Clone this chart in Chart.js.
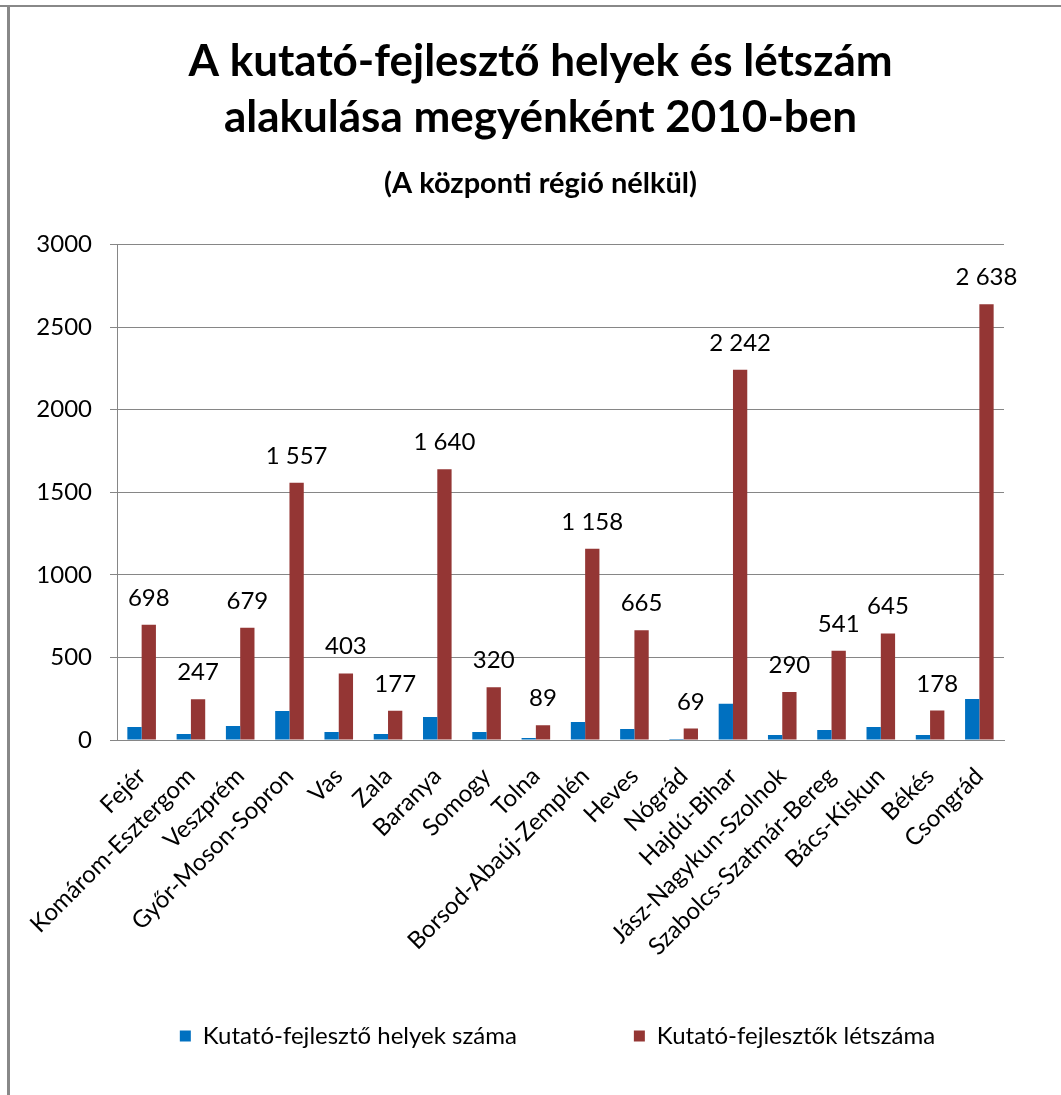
<!DOCTYPE html>
<html lang="hu">
<head>
<meta charset="utf-8">
<title>Kutató-fejlesztő helyek és létszám 2010</title>
<script src="https://cdn.jsdelivr.net/npm/chart.js@4.4.1/dist/chart.umd.min.js"></script>
<style>
  html, body { margin: 0; padding: 0; background: #fff; }
  #wrap { width: 1061px; height: 1095px; }
</style>
</head>
<body>
<div id="wrap"><canvas id="chart" width="1061" height="1095"></canvas></div>
<script>
/* data */
const categories = ['Fejér','Komárom-Esztergom','Veszprém','Győr-Moson-Sopron','Vas','Zala','Baranya','Somogy','Tolna',
  'Borsod-Abaúj-Zemplén','Heves','Nógrád','Hajdú-Bihar','Jász-Nagykun-Szolnok','Szabolcs-Szatmár-Bereg','Bács-Kiskun','Békés','Csongrád'];
const helyekSzama = [79, 36, 85, 176, 49, 36, 140, 49, 12, 109, 67, 6, 219, 30, 61, 79, 30, 249];
const letszam = [698, 247, 679, 1557, 403, 177, 1640, 320, 89, 1158, 665, 69, 2242, 290, 541, 645, 178, 2638];
const yTickValues = [0, 500, 1000, 1500, 2000, 2500, 3000];
const seriesNames = ['Kutató-fejlesztő helyek száma', 'Kutató-fejlesztők létszáma'];

const FONT = 'Lato, "Open Sans", sans-serif';
const GRID = '#868686';

// 1 557 style thousands separator, like the original labels
function huNum(v){ return String(v).replace(/\B(?=(\d{3})+(?!\d))/g, ' '); }

// white background + the grey frame on the left and top edge
const frame = {
  id: 'frame',
  beforeDraw(chart){
    const c = chart.ctx;
    c.save();
    c.fillStyle = '#fff'; c.fillRect(0, 0, chart.width, chart.height);
    c.fillStyle = '#888';
    c.fillRect(0, 5, chart.width, 2);
    c.fillRect(7, 5, 3, chart.height);
    c.restore();
  }
};

// value labels above the red bars only
const barLabels = {
  id: 'barLabels',
  afterDatasetsDraw(chart){
    const c = chart.ctx;
    const meta = chart.getDatasetMeta(1);
    c.save();
    c.font = '24px ' + FONT; c.fillStyle = '#000';
    c.textAlign = 'center'; c.textBaseline = 'alphabetic';
    meta.data.forEach((bar, i) => c.fillText(huNum(letszam[i]), bar.x, bar.y - 19));
    c.restore();
  }
};

// legend sits a bit right of centre and overlaps the tall x-label band in the original
const legendNudge = {
  id: 'legendNudge',
  afterLayout(chart){
    const lg = chart.legend;
    if (!lg) return;
    lg.left += 17; lg.right += 17;
    lg.top -= 63; lg.bottom -= 63;
  }
};

new Chart(document.getElementById('chart'), {
  type: 'bar',
  data: {
    labels: categories,
    datasets: [
      { label: seriesNames[0], data: helyekSzama, backgroundColor: '#0070C0', categoryPercentage: 0.58, barPercentage: 1 },
      { label: seriesNames[1], data: letszam, backgroundColor: '#943634', categoryPercentage: 0.58, barPercentage: 1 }
    ]
  },
  options: {
    responsive: false, animation: false,
    layout: { padding: { left: 24, right: 4, top: 0, bottom: -26 } },
    plugins: {
      title: {
        display: true, text: ['A kutató-fejlesztő helyek és létszám', 'alakulása megyénként 2010-ben'],
        color: '#000', font: { family: FONT, size: 44, weight: 'bold', lineHeight: 1.27 },
        padding: { top: 34, bottom: 20 }
      },
      subtitle: {
        display: true, text: '(A központi régió nélkül)',
        color: '#000', font: { family: FONT, size: 29, weight: 'bold' },
        padding: { top: 0, bottom: 44 }
      },
      legend: {
        position: 'bottom',
        labels: { color: '#000', font: { family: FONT, size: 24 }, boxWidth: 11, boxHeight: 11, padding: 117 }
      },
      tooltip: { enabled: false }
    },
    scales: {
      x: {
        grid: { display: false },
        border: { color: GRID },
        ticks: { color: '#000', font: { family: FONT, size: 24 }, minRotation: 45, maxRotation: 45, autoSkip: false, padding: 14 },
        afterFit(scale){ scale.height = 230; }
      },
      y: {
        min: 0, max: 3000,
        grid: { color: GRID, tickLength: 7 },
        border: { color: GRID },
        ticks: { color: '#000', font: { family: FONT, size: 24 }, padding: 18, stepSize: 500,
          callback: v => yTickValues.includes(v) ? String(v) : null },
        afterFit(scale){ scale.width = 93; }
      },
      yRight: {
        position: 'right', display: true,
        grid: { display: false }, border: { display: false }, ticks: { display: false },
        afterFit(scale){ scale.width = 53; }
      }
    }
  },
  plugins: [frame, barLabels, legendNudge]
});
</script>
</body>
</html>
